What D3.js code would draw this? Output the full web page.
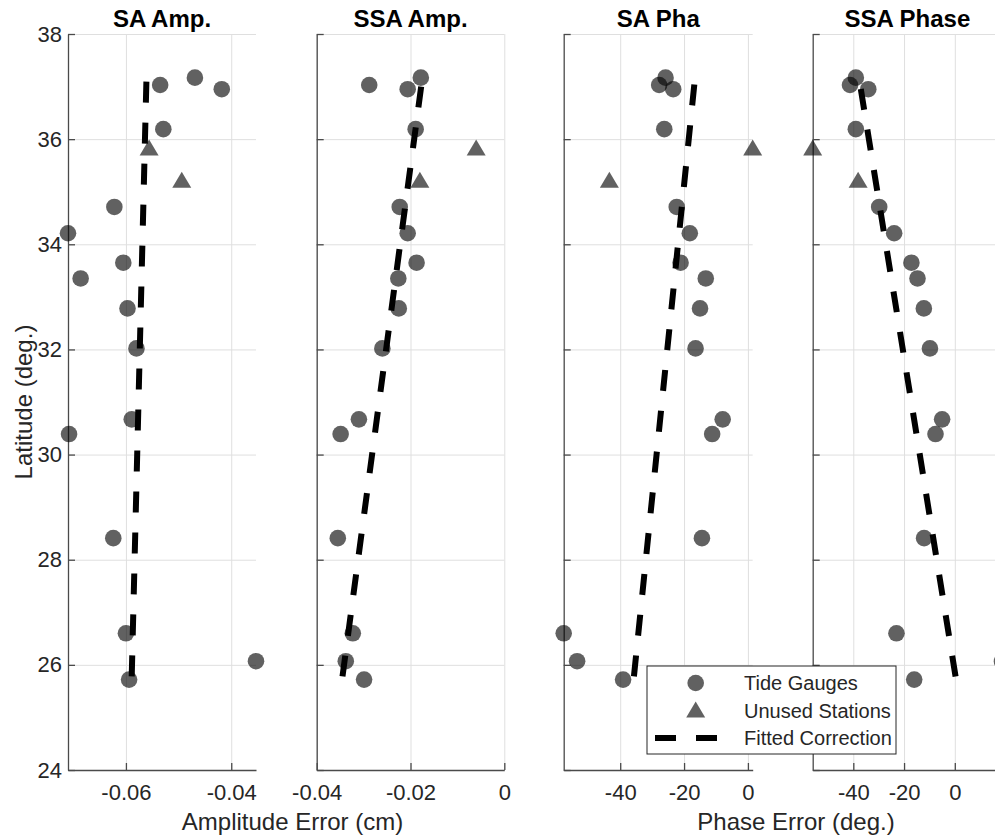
<!doctype html>
<html>
    <head>
        <meta charset="utf-8" />
        <title>Tide errors vs latitude</title>
        <script src="https://cdn.jsdelivr.net/npm/d3@7"></script>
        <style>
            body { margin: 0; background: #fff; }
            text { font-family: "Liberation Sans", Arial, sans-serif; }
        </style>
    </head>
    <body>
        <svg id="chart" width="995" height="836"></svg>
        <script>
            // latitudes of the stations
            var gaugeLat = [37.17, 37.03, 36.95, 36.19, 34.71, 34.21, 33.65, 33.35, 32.78, 32.02, 30.67, 30.39, 28.41, 26.60, 26.07, 25.72];
            var unusedLat = [35.83, 35.22];
            var fitLat = [25.78, 37.15];

            var titles = ["SA Amp.", "SSA Amp.", "SA Pha", "SSA Phase"];

            var saAmpGauge = [-0.0469, -0.0535, -0.0418, -0.0529, -0.0622, -0.0710, -0.0605, -0.0686, -0.0597, -0.0580, -0.0589, -0.0708, -0.0624, -0.0600, -0.0353, -0.0594];
            var saAmpUnused = [-0.0556, -0.0494];
            var saAmpFit = [-0.0589, -0.0561];

            var ssaAmpGauge = [-0.0178, -0.0288, -0.0206, -0.0189, -0.0223, -0.0206, -0.0187, -0.0226, -0.0225, -0.0260, -0.0310, -0.0349, -0.0355, -0.0323, -0.0338, -0.0299];
            var ssaAmpUnused = [-0.0060, -0.0180];
            var ssaAmpFit = [-0.0345, -0.0175];

            var saPhaGauge = [-25.8, -27.8, -23.4, -26.2, -22.3, -18.2, -21.1, -13.2, -15.0, -16.4, -7.9, -11.2, -14.4, -57.7, -53.5, -39.1];
            var saPhaUnused = [1.5, -43.4];
            var saPhaFit = [-35.7, -16.6];

            var ssaPhaGauge = [-39.0, -41.3, -34.1, -39.0, -29.8, -23.9, -17.1, -14.7, -12.2, -9.8, -5.0, -7.6, -12.1, -23.0, 18.6, -16.0];
            var ssaPhaUnused = [-56.0, -38.1];
            var ssaPhaFit = [0.3, -37.7];

            var xDomains = [[-0.071, -0.0353], [-0.04, 0], [-57.7, 1.5], [-56, 18.6]];
            var xTicks = [[-0.06, -0.04], [-0.04, -0.02, 0], [-40, -20, 0], [-40, -20, 0]];
            var yTicks = [24, 26, 28, 30, 32, 34, 36, 38];

            var panels = [
                {gauge: saAmpGauge, unused: saAmpUnused, fit: saAmpFit, x0: 68, x1: 256},
                {gauge: ssaAmpGauge, unused: ssaAmpUnused, fit: ssaAmpFit, x0: 316.7, x1: 504.3},
                {gauge: saPhaGauge, unused: saPhaUnused, fit: saPhaFit, x0: 563.7, x1: 752.7},
                {gauge: ssaPhaGauge, unused: ssaPhaUnused, fit: ssaPhaFit, x0: 812.7, x1: 1002}
            ];

            var svg = d3.select("#chart");
            var y = d3.scaleLinear().domain([24, 38]).range([770, 34]);
            var markFill = "#000", markOpacity = 0.62;

            function triangle(cx, cy) {
                return "M" + cx + "," + (cy - 8.5) + "L" + (cx + 9.5) + "," + (cy + 7.5) + "L" + (cx - 9.5) + "," + (cy + 7.5) + "Z";
            }

            panels.forEach(function(p, i) {
                var x = d3.scaleLinear().domain(xDomains[i]).range([p.x0, p.x1]);
                var g = svg.append("g");
                var w = p.x1 - p.x0;

                // grid
                g.append("g").attr("transform", "translate(0,770)")
                  .call(d3.axisBottom(x).tickValues(xTicks[i]).tickSize(-736).tickFormat(""))
                  .call(a => a.select(".domain").remove())
                  .selectAll("line").attr("stroke", "#dfdfdf").attr("stroke-width", 1);
                g.append("g").attr("transform", "translate(" + p.x0 + ",0)")
                  .call(d3.axisLeft(y).tickValues(yTicks.slice(1)).tickSize(-w).tickFormat(""))
                  .call(a => a.select(".domain").remove())
                  .selectAll("line").attr("stroke", "#dfdfdf").attr("stroke-width", 1);

                // axes
                var ax = g.append("g").attr("transform", "translate(0,770)")
                  .call(d3.axisBottom(x).tickValues(xTicks[i]).tickSize(-7).tickSizeOuter(0).tickPadding(14)
                        .tickFormat(d => String(d)));
                var ay = g.append("g").attr("transform", "translate(" + p.x0 + ",0)")
                  .call(d3.axisLeft(y).tickValues(yTicks).tickSize(-7).tickSizeOuter(0).tickPadding(6)
                        .tickFormat(i === 0 ? (d => String(d)) : ""));
                [ax, ay].forEach(function(a) {
                    a.select(".domain").attr("stroke", "#4a4a4a").attr("stroke-width", 1.3);
                    a.selectAll(".tick line").attr("stroke", "#4a4a4a").attr("stroke-width", 1.3);
                    a.selectAll("text").attr("font-size", 22).attr("fill", "#262626")
                      .attr("font-family", "'Liberation Sans', Arial, sans-serif");
                });

                // markers
                g.selectAll("circle.gauge").data(p.gauge).enter().append("circle")
                  .attr("cx", d => x(d)).attr("cy", (d, k) => y(gaugeLat[k])).attr("r", 8.3)
                  .attr("fill", markFill).attr("fill-opacity", markOpacity);
                g.selectAll("path.unused").data(p.unused).enter().append("path")
                  .attr("d", (d, k) => triangle(x(d), y(unusedLat[k])))
                  .attr("fill", markFill).attr("fill-opacity", markOpacity);

                // fitted correction
                g.append("path")
                  .datum(p.fit.map((v, k) => [v, fitLat[k]]))
                  .attr("d", d3.line().x(d => x(d[0])).y(d => y(d[1])))
                  .attr("fill", "none").attr("stroke", "#000").attr("stroke-width", 6)
                  .attr("stroke-dasharray", "21 20");

                // title
                g.append("text").attr("x", (p.x0 + p.x1) / 2).attr("y", 26.5)
                  .attr("text-anchor", "middle").attr("font-size", 24).attr("font-weight", "bold")
                  .attr("fill", "#000").text(titles[i]);
            });

            // axis labels
            svg.append("text").attr("x", 292.5).attr("y", 830).attr("text-anchor", "middle")
              .attr("font-size", 24).attr("fill", "#262626").text("Amplitude Error (cm)");
            svg.append("text").attr("x", 796).attr("y", 830).attr("text-anchor", "middle")
              .attr("font-size", 24).attr("fill", "#262626").text("Phase Error (deg.)");
            svg.append("text").attr("transform", "translate(32,402) rotate(-90)").attr("text-anchor", "middle")
              .attr("font-size", 24).attr("fill", "#262626").text("Latitude (deg.)");

            // legend
            var leg = svg.append("g");
            leg.append("rect").attr("x", 647).attr("y", 666).attr("width", 249).attr("height", 88)
              .attr("fill", "#fff").attr("stroke", "#262626").attr("stroke-width", 1);
            leg.append("circle").attr("cx", 695.7).attr("cy", 683).attr("r", 8.3)
              .attr("fill", markFill).attr("fill-opacity", markOpacity);
            leg.append("path").attr("d", triangle(695.7, 710))
              .attr("fill", markFill).attr("fill-opacity", markOpacity);
            leg.append("line").attr("x1", 655).attr("x2", 737).attr("y1", 738).attr("y2", 738)
              .attr("stroke", "#000").attr("stroke-width", 6).attr("stroke-dasharray", "21 20");
            var legText = ["Tide Gauges", "Unused Stations", "Fitted Correction"];
            leg.selectAll("text").data(legText).enter().append("text")
              .attr("x", 744).attr("y", (d, k) => 683 + k * 27.5).attr("dy", "0.35em")
              .attr("font-size", 20).attr("fill", "#262626").text(d => d);
        </script>
    </body>
</html>
